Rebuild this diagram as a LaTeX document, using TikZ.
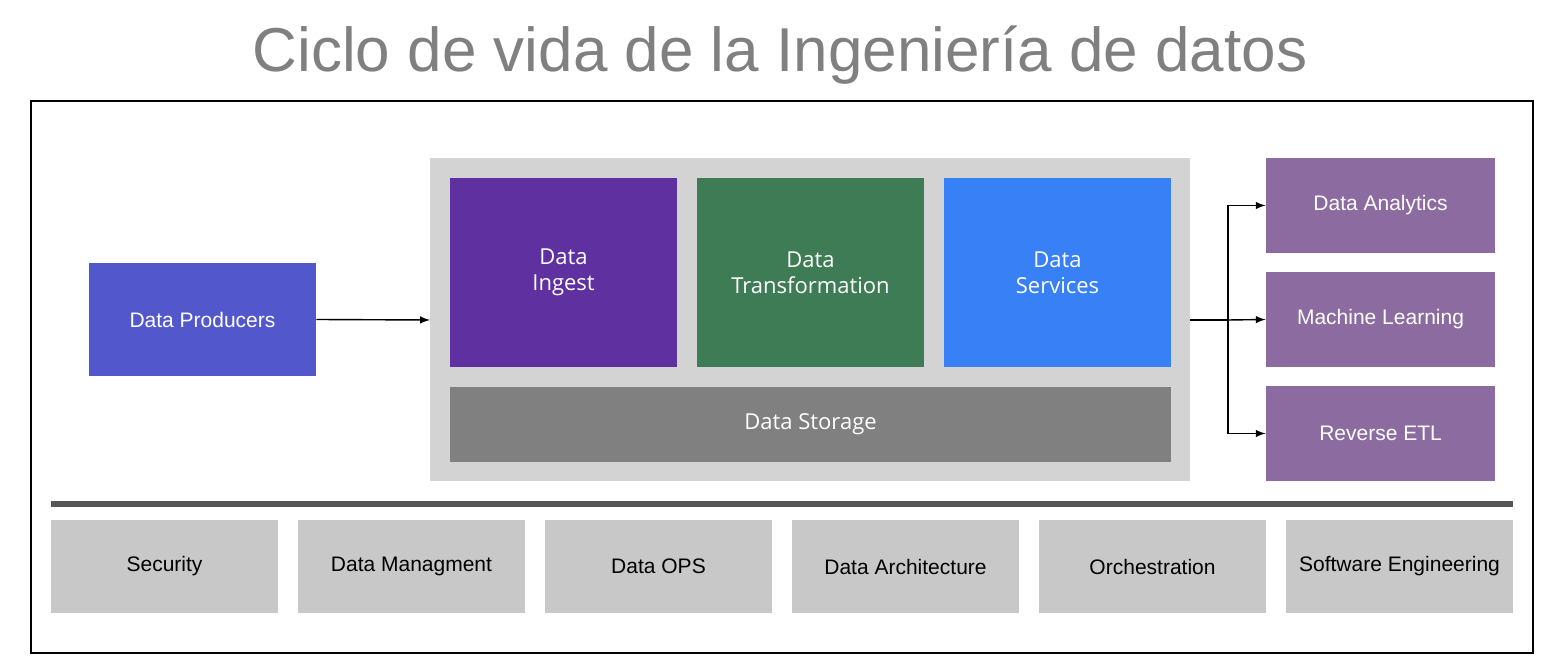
\documentclass[tikz,border=0pt]{standalone}
\usepackage{fontspec}
\setmainfont{Liberation Sans}
\newfontfamily\opensans{Open Sans}
\begin{document}
\begin{tikzpicture}[x=0.5pt,y=-0.5pt,
  box/.style={draw=none,inner sep=0pt,align=center},
  wt/.style={text=white,font=\opensans\fontsize{11}{13}\selectfont},
  at2/.style={text=white,font=\fontsize{10.5}{12}\selectfont},
  bt/.style={text=black,font=\fontsize{10.5}{12}\selectfont},
  arr/.style={-latex,line width=0.7pt}]
\definecolor{prod}{RGB}{82,88,204}
\definecolor{ingest}{RGB}{94,48,160}
\definecolor{trans}{RGB}{62,124,85}
\definecolor{serv}{RGB}{56,128,246}
\definecolor{stor}{RGB}{128,128,128}
\definecolor{outc}{RGB}{140,108,160}
\definecolor{contc}{RGB}{211,211,211}
\definecolor{botc}{RGB}{200,200,200}
\definecolor{barc}{RGB}{85,85,85}
\useasboundingbox (0,0) rectangle (1566,672);
\fill[white] (0,0) rectangle (1566,672);
\node[text=stor,font=\fontsize{31}{36}\selectfont] (title) at (780,55) {Ciclo de vida de la Ingeniería de datos};
\draw[line width=0.8pt] (31,101) rectangle (1533,653);
\fill[contc] (430,158) rectangle (1190,481);
\node[box,fill=prod,minimum width=227pt*0.5,minimum height=113pt*0.5,at2] (prod) at (202.5,319.5) {Data Producers};
\node[box,fill=ingest,minimum width=113.5pt,minimum height=94.5pt,wt] (ing) at (563.5,272.5) {Data\\Ingest};
\node[box,fill=trans,minimum width=113.5pt,minimum height=94.5pt,wt] (tr) at (810.5,272.5) {Data\\Transformation};
\node[box,fill=serv,minimum width=113.5pt,minimum height=94.5pt,wt] (sv) at (1057.5,272.5) {Data\\Services};
\node[box,fill=stor,minimum width=360.5pt,minimum height=37.5pt,wt] (st) at (810.5,424.5) {Data Storage};
\coordinate (cl) at (430,320);
\coordinate (cr) at (1190,320);
\coordinate (sp) at (1228,320);
\foreach \n/\y/\t in {da/205.5/Data Analytics,ml/319.5/Machine Learning,re/433.5/Reverse ETL}
  \node[box,fill=outc,minimum width=114.5pt,minimum height=47.5pt,at2] (\n) at (1380.5,\y) {\t};
\draw[arr] (prod.east) -- (cl);
\draw[line width=0.7pt] (cr) -- (sp);
\draw[arr] (sp) -- (ml.west);
\draw[arr] (sp) |- (da.west);
\draw[arr] (sp) |- (re.west);
\fill[barc] (51,501) rectangle (1513,507);
\foreach \n/\x/\t in {b1/164.5/Security,b2/411.5/Data Managment,b3/658.5/Data OPS,b4/905.5/Data Architecture,b5/1152.5/Orchestration,b6/1399.5/Software Engineering}
  \node[box,fill=botc,minimum width=113.5pt,minimum height=46.5pt,bt] (\n) at (\x,566.5) {\t};
\end{tikzpicture}
\end{document}
